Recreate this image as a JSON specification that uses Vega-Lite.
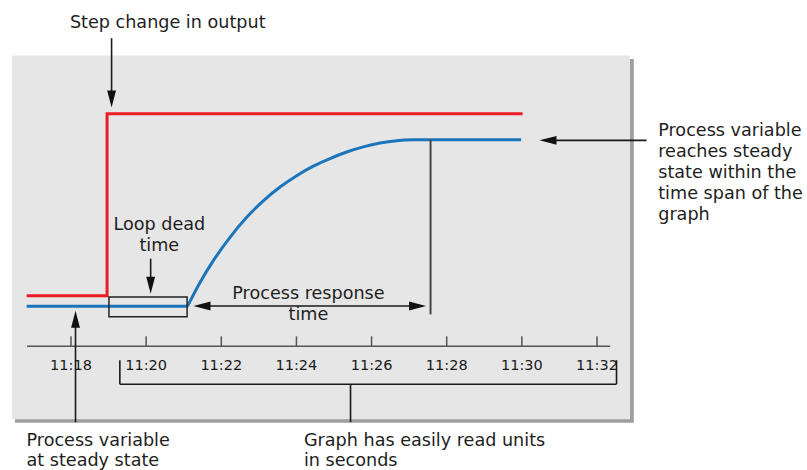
{
  "$schema": "https://vega.github.io/schema/vega-lite/v6.json",
  "width": 807,
  "height": 470,
  "autosize": {"type": "fit", "contains": "padding"},
  "padding": 0,
  "background": "white",
  "config": {"view": {"stroke": null}},
  "datasets": {
    "shadow": [{"t": 16.51, "t2": 32.98, "v": 148.5, "v2": -69.8}],
    "panel": [{"t": 16.43, "t2": 32.88, "v": 150.6, "v2": -67.7}],
    "deadBox": [{"t": 19.01, "t2": 21.09, "v": 5.6, "v2": -6.2}],
    "output": [
      {"series": "Controller output", "t": 16.82, "v": 6.3},
      {"series": "Controller output", "t": 18.96, "v": 115.6},
      {"series": "Controller output", "t": 30.02, "v": 115.6}
    ],
    "pv": [
      {"series": "Process variable", "phase": "dead time", "t": 16.82, "v": 0},
      {"series": "Process variable", "phase": "dead time", "t": 21.1, "v": 0},
      {"series": "Process variable", "phase": "response", "t": 21.1, "v": 0},
      {"series": "Process variable", "phase": "response", "t": 21.434, "v": 14.3},
      {"series": "Process variable", "phase": "response", "t": 21.788, "v": 27.4},
      {"series": "Process variable", "phase": "response", "t": 22.232, "v": 41.4},
      {"series": "Process variable", "phase": "response", "t": 22.677, "v": 53.4},
      {"series": "Process variable", "phase": "response", "t": 23.118, "v": 63.3},
      {"series": "Process variable", "phase": "response", "t": 23.563, "v": 71.6},
      {"series": "Process variable", "phase": "response", "t": 24.007, "v": 78.4},
      {"series": "Process variable", "phase": "response", "t": 24.449, "v": 84.1},
      {"series": "Process variable", "phase": "response", "t": 24.894, "v": 88.7},
      {"series": "Process variable", "phase": "response", "t": 25.338, "v": 92.6},
      {"series": "Process variable", "phase": "response", "t": 25.78, "v": 95.7},
      {"series": "Process variable", "phase": "response", "t": 26.225, "v": 98.0},
      {"series": "Process variable", "phase": "response", "t": 26.669, "v": 99.4},
      {"series": "Process variable", "phase": "response", "t": 27.111, "v": 99.9},
      {"series": "Process variable", "phase": "response", "t": 27.556, "v": 100},
      {"series": "Process variable", "phase": "response", "t": 29.98, "v": 100}
    ],
    "axisLine": [
      {"t": 16.83, "t2": 32.35, "v": -24.0, "v2": -24.0},
      {"t": 18, "t2": 18, "v": -24.0, "v2": -18.0},
      {"t": 20, "t2": 20, "v": -24.0, "v2": -18.0},
      {"t": 22, "t2": 22, "v": -24.0, "v2": -18.0},
      {"t": 24, "t2": 24, "v": -24.0, "v2": -18.0},
      {"t": 26, "t2": 26, "v": -24.0, "v2": -18.0},
      {"t": 28, "t2": 28, "v": -24.0, "v2": -18.0},
      {"t": 30, "t2": 30, "v": -24.0, "v2": -18.0},
      {"t": 32, "t2": 32, "v": -24.0, "v2": -18.0}
    ],
    "tickLabels": [
      {"t": 18, "v": -38.1, "label": "11:18"},
      {"t": 20, "v": -38.1, "label": "11:20"},
      {"t": 22, "v": -38.1, "label": "11:22"},
      {"t": 24, "v": -38.1, "label": "11:24"},
      {"t": 26, "v": -38.1, "label": "11:26"},
      {"t": 28, "v": -38.1, "label": "11:28"},
      {"t": 30, "v": -38.1, "label": "11:30"},
      {"t": 32, "v": -38.1, "label": "11:32"}
    ],
    "responseEnd": [{"t": 27.57, "t2": 27.57, "v": 100, "v2": -4.8}],
    "leaders": [
      {"t": 19.08, "t2": 19.08, "v": 160.9, "v2": 124.0},
      {"t": 20.12, "t2": 20.12, "v": 28.6, "v2": 12.0},
      {"t": 18.12, "t2": 18.12, "v": -69.5, "v2": -6.0},
      {"t": 21.43, "t2": 27.29, "v": 0.2, "v2": 0.2},
      {"t": 33.32, "t2": 30.62, "v": 99.6, "v2": 99.6},
      {"t": 19.30, "t2": 32.52, "v": -46.7, "v2": -46.7},
      {"t": 19.30, "t2": 19.30, "v": -46.7, "v2": -32.3},
      {"t": 32.52, "t2": 32.52, "v": -46.7, "v2": -32.3},
      {"t": 25.44, "t2": 25.44, "v": -46.7, "v2": -69.5}
    ],
    "heads": [
      {"t": 19.08, "v": 119.3, "pointing": "down"},
      {"t": 20.12, "v": 7.6, "pointing": "down"},
      {"t": 18.12, "v": -2.7, "pointing": "up"},
      {"t": 21.26, "v": 0.2, "pointing": "left"},
      {"t": 30.47, "v": 99.6, "pointing": "left"},
      {"t": 27.45, "v": 0.2, "pointing": "right"}
    ],
    "notesLeft": [
      {"t": 17.97, "v": 166.8, "label": "Step change in output"},
      {"t": 33.63, "v": 102.4, "label": "Process variable"},
      {"t": 33.63, "v": 89.6, "label": "reaches steady"},
      {"t": 33.63, "v": 77.1, "label": "state within the"},
      {"t": 33.63, "v": 64.5, "label": "time span of the"},
      {"t": 33.63, "v": 52.1, "label": "graph"},
      {"t": 16.815, "v": -84.0, "label": "Process variable"},
      {"t": 16.815, "v": -96.0, "label": "at steady state"},
      {"t": 24.20, "v": -84.0, "label": "Graph has easily read units"},
      {"t": 24.20, "v": -96.0, "label": "in seconds"}
    ],
    "notesCenter": [
      {"t": 20.35, "v": 45.7, "label": "Loop dead"},
      {"t": 20.35, "v": 33.1, "label": "time"},
      {"t": 24.32, "v": 4.2, "label": "Process response"},
      {"t": 24.32, "v": -8.2, "label": "time"}
    ]
  },
  "encoding": {
    "x": {"field": "t", "type": "quantitative", "scale": {"domain": [16.11, 37.59], "nice": false, "zero": false}, "axis": null},
    "y": {"field": "v", "type": "quantitative", "scale": {"domain": [-97.6, 183.83], "nice": false, "zero": false}, "axis": null}
  },
  "layer": [
    {"data": {"name": "shadow"}, "mark": {"type": "rect", "color": "#9e9e9e"},
     "encoding": {"x2": {"field": "t2"}, "y2": {"field": "v2"}}},
    {"data": {"name": "panel"}, "mark": {"type": "rect", "color": "#e6e6e6"},
     "encoding": {"x2": {"field": "t2"}, "y2": {"field": "v2"}}},
    {"data": {"name": "axisLine"}, "mark": {"type": "rule", "color": "#555555", "strokeWidth": 1.5},
     "encoding": {"x2": {"field": "t2"}, "y2": {"field": "v2"}}},
    {"data": {"name": "output"}, "mark": {"type": "line", "interpolate": "step-after", "strokeWidth": 3},
     "encoding": {"color": {"field": "series", "type": "nominal", "scale": {"domain": ["Controller output", "Process variable"], "range": ["#ed1c24", "#1b75bc"]}, "legend": null}}},
    {"data": {"name": "pv"}, "mark": {"type": "line", "interpolate": "monotone", "strokeWidth": 3, "strokeCap": "butt", "strokeJoin": "miter"},
     "encoding": {"color": {"field": "series", "type": "nominal", "legend": null}, "detail": {"field": "phase", "type": "nominal"}}},
    {"data": {"name": "deadBox"}, "mark": {"type": "rect", "fill": null, "fillOpacity": 0, "stroke": "#222222", "strokeWidth": 1.5},
     "encoding": {"x2": {"field": "t2"}, "y2": {"field": "v2"}}},
    {"data": {"name": "responseEnd"}, "mark": {"type": "rule", "color": "#444444", "strokeWidth": 2},
     "encoding": {"x2": {"field": "t2"}, "y2": {"field": "v2"}}},
    {"data": {"name": "leaders"}, "mark": {"type": "rule", "color": "#1a1a1a", "strokeWidth": 1.6},
     "encoding": {"x2": {"field": "t2"}, "y2": {"field": "v2"}}},
    {"data": {"name": "heads"}, "transform": [{"filter": "datum.pointing === 'right'"}],
     "mark": {"type": "point", "shape": "M0,0L-1,-0.26L-1,0.26Z", "filled": true, "color": "#111111", "opacity": 1, "size": 1156, "angle": 0}},
    {"data": {"name": "heads"}, "transform": [{"filter": "datum.pointing === 'down'"}],
     "mark": {"type": "point", "shape": "M0,0L-1,-0.26L-1,0.26Z", "filled": true, "color": "#111111", "opacity": 1, "size": 1156, "angle": 90}},
    {"data": {"name": "heads"}, "transform": [{"filter": "datum.pointing === 'left'"}],
     "mark": {"type": "point", "shape": "M0,0L-1,-0.26L-1,0.26Z", "filled": true, "color": "#111111", "opacity": 1, "size": 1156, "angle": 180}},
    {"data": {"name": "heads"}, "transform": [{"filter": "datum.pointing === 'up'"}],
     "mark": {"type": "point", "shape": "M0,0L-1,-0.26L-1,0.26Z", "filled": true, "color": "#111111", "opacity": 1, "size": 1156, "angle": 270}},
    {"data": {"name": "tickLabels"}, "mark": {"type": "text", "font": "DejaVu Sans", "fontSize": 14.5, "align": "center", "baseline": "alphabetic", "color": "#1a1a1a"},
     "encoding": {"text": {"field": "label"}}},
    {"data": {"name": "notesLeft"}, "mark": {"type": "text", "font": "DejaVu Sans", "fontSize": 17.6, "align": "left", "baseline": "alphabetic", "color": "#1e1e1e"},
     "encoding": {"text": {"field": "label"}}},
    {"data": {"name": "notesCenter"}, "mark": {"type": "text", "font": "DejaVu Sans", "fontSize": 17.6, "align": "center", "baseline": "alphabetic", "color": "#1e1e1e"},
     "encoding": {"text": {"field": "label"}}}
  ]
}
